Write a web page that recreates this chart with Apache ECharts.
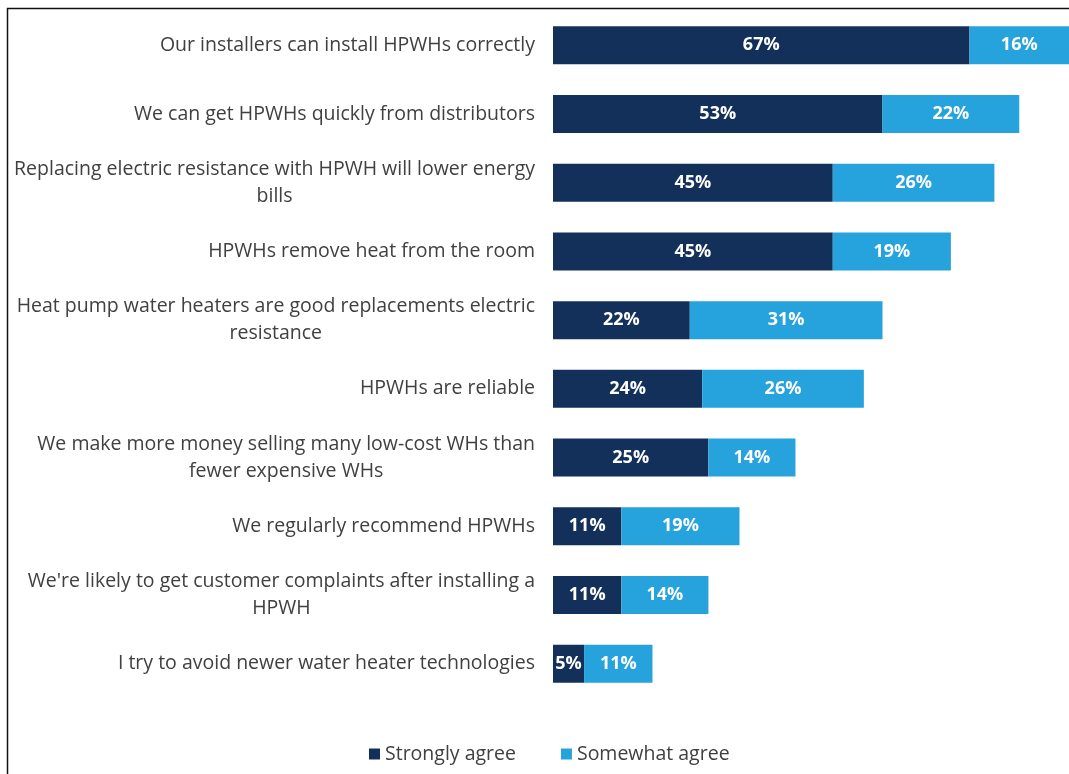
<!DOCTYPE html>
<html>
<head>
<meta charset="utf-8">
<script src="https://cdn.jsdelivr.net/npm/echarts@6/dist/echarts.min.js"></script>
<style>
  html, body { margin: 0; padding: 0; background: #ffffff; }
  #chart { width: 1069px; height: 774px; }
</style>
</head>
<body>
<div id="chart"></div>
<script>
// Statements about heat pump water heaters (HPWH), top to bottom
const statements = [
  'Our installers can install HPWHs correctly',
  'We can get HPWHs quickly from distributors',
  'Replacing electric resistance with HPWH will lower energy\nbills',
  'HPWHs remove heat from the room',
  'Heat pump water heaters are good replacements electric\nresistance',
  'HPWHs are reliable',
  'We make more money selling many low-cost WHs than\nfewer expensive WHs',
  'We regularly recommend HPWHs',
  "We're likely to get customer complaints after installing a\nHPWH",
  'I try to avoid newer water heater technologies'
];

// Share of respondents (%)
const stronglyAgree = [67, 53, 45, 45, 22, 24, 25, 11, 11, 5];
const somewhatAgree = [16, 22, 26, 19, 31, 26, 14, 19, 14, 11];

const seriesNames = ['Strongly agree', 'Somewhat agree'];

const NAVY = '#13305a';
const SKY = '#26a2dd';
const FONT = '"Open Sans", Lato, sans-serif';

const chart = echarts.init(document.getElementById('chart'));

const valueLabel = {
  show: true,
  position: 'inside',
  color: '#ffffff',
  fontFamily: FONT,
  fontWeight: 'bold',
  fontSize: 18,
  formatter: p => p.value + '%'
};

chart.setOption({
  animation: false,
  backgroundColor: '#ffffff',
  graphic: [{
    type: 'rect',
    shape: { x: 7.5, y: 8.5, width: 1200, height: 900 },
    style: { fill: 'none', stroke: '#111111', lineWidth: 1.5 },
    silent: true,
    z: 0
  }],
  grid: { left: 553, right: 0, top: 11, bottom: 76, containLabel: false },
  legend: {
    bottom: 5,
    left: 364,
    itemGap: 45,
    itemWidth: 11,
    itemHeight: 11,
    icon: 'rect',
    textStyle: { fontFamily: FONT, fontSize: 19.5, color: '#404040' },
    data: seriesNames
  },
  xAxis: {
    type: 'value',
    min: 0,
    max: 83,
    show: false
  },
  yAxis: {
    type: 'category',
    inverse: true,
    data: statements,
    axisLine: { show: false },
    axisTick: { show: false },
    axisLabel: {
      margin: 18,
      fontFamily: FONT,
      fontSize: 19.5,
      color: '#404040',
      lineHeight: 27,
      formatter: v => '{c|' + v + '}',
      rich: {
        c: { align: 'center', fontFamily: FONT, fontSize: 19.5, color: '#404040', lineHeight: 27 }
      }
    }
  },
  series: [
    {
      name: seriesNames[0],
      type: 'bar',
      stack: 'agree',
      barWidth: 38,
      itemStyle: { color: NAVY },
      label: valueLabel,
      data: stronglyAgree
    },
    {
      name: seriesNames[1],
      type: 'bar',
      stack: 'agree',
      barWidth: 38,
      itemStyle: { color: SKY },
      label: valueLabel,
      data: somewhatAgree
    }
  ]
});
</script>
</body>
</html>
